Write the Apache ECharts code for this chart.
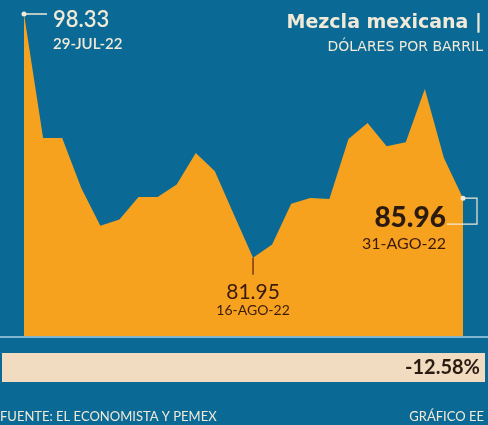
<!DOCTYPE html>
<html><head><meta charset="utf-8">
<script src="https://cdn.jsdelivr.net/npm/echarts@6/dist/echarts.min.js"></script>
<style>html,body{margin:0;padding:0;background:#0b6a95;}#c{width:488px;height:425px;}</style>
</head><body><div id="c"></div>
<script>
const dates = ['29-JUL-22','01-AGO-22','02-AGO-22','03-AGO-22','04-AGO-22','05-AGO-22','08-AGO-22','09-AGO-22','10-AGO-22','11-AGO-22','12-AGO-22','15-AGO-22','16-AGO-22','17-AGO-22','18-AGO-22','19-AGO-22','22-AGO-22','23-AGO-22','24-AGO-22','25-AGO-22','26-AGO-22','29-AGO-22','30-AGO-22','31-AGO-22'];
const prices = [98.33,90.00,90.00,86.64,84.11,84.52,86.04,86.04,86.87,89.00,87.76,84.85,81.95,82.84,85.59,85.97,85.91,89.94,91.01,89.44,89.71,93.29,88.66,85.96];
const changeText = '-12.58%';
const FONT = 'Lato';
const WIDE = '"DejaVu Sans"';
const cream = '#f1ead9';
const dark = '#2b1a10';

const chart = echarts.init(document.getElementById('c'));
chart.setOption({
  backgroundColor: '#0b6a95',
  animation: false,
  grid: {left: 24, right: 25, top: 14, bottom: 89},
  xAxis: {type: 'category', data: dates, boundaryGap: false, show: false},
  yAxis: {type: 'value', min: 76.7, max: 98.33, show: false},
  series: [{
    type: 'line', data: prices, symbol: 'none', z: 1,
    lineStyle: {width: 0}, areaStyle: {color: '#f7a21e', opacity: 1}
  }]
});

const first = chart.convertToPixel({xAxisIndex:0,yAxisIndex:0},[0,prices[0]]);
const minIdx = prices.indexOf(Math.min(...prices));
const low = chart.convertToPixel({xAxisIndex:0,yAxisIndex:0},[minIdx,prices[minIdx]]);
const li = prices.length-1;
const last = chart.convertToPixel({xAxisIndex:0,yAxisIndex:0},[li,prices[li]]);

const g = [
    {type:'line', shape:{x1:0,y1:337,x2:488,y2:337}, style:{stroke:'#7fb6d0', lineWidth:2}},
    {type:'rect', shape:{x:2,y:353,width:483,height:29}, style:{fill:'#f1dcc2'}},
    {type:'text', x:480, y:368, style:{text:changeText, fill:dark, font:'bold 20px '+FONT, align:'right', verticalAlign:'middle'}},
    {type:'text', x:0, y:417, style:{text:'FUENTE: EL ECONOMISTA Y PEMEX', fill:cream, font:'13px '+FONT, verticalAlign:'middle'}},
    {type:'text', x:484, y:417, style:{text:'GRÁFICO EE', fill:cream, font:'13px '+FONT, align:'right', verticalAlign:'middle'}},
    {type:'text', x:482, y:23, style:{text:'Mezcla mexicana |', fill:cream, font:'bold 19px '+WIDE, align:'right', verticalAlign:'middle'}},
    {type:'text', x:483, y:47, style:{text:'DÓLARES POR BARRIL', fill:cream, font:'14px '+WIDE, align:'right', verticalAlign:'middle'}},
    // first callout
    {type:'line', shape:{x1:first[0],y1:first[1],x2:first[0]+23,y2:first[1]}, style:{stroke:cream, lineWidth:1.5}},
    {type:'circle', shape:{cx:first[0],cy:first[1],r:2.5}, style:{fill:cream}},
    {type:'text', x:first[0]+29, y:first[1]+6, style:{text:prices[0].toFixed(2), fill:cream, font:'600 22px '+FONT, verticalAlign:'middle'}},
    {type:'text', x:first[0]+29, y:first[1]+30, style:{text:dates[0], fill:cream, font:'600 15px '+FONT, verticalAlign:'middle'}},
    // low callout
    {type:'line', shape:{x1:low[0],y1:low[1],x2:low[0],y2:low[1]+17}, style:{stroke:'#5a2010', lineWidth:1.2}},
    {type:'text', x:low[0], y:low[1]+34, style:{text:prices[minIdx].toFixed(2), fill:'#3a1a0c', font:'21px '+FONT, align:'center', verticalAlign:'middle'}},
    {type:'text', x:low[0], y:low[1]+53, style:{text:dates[minIdx], fill:'#3a1a0c', font:'14px '+FONT, align:'center', verticalAlign:'middle'}},
    // last callout
    {type:'polyline', shape:{points:[[last[0],last[1]],[last[0]+14,last[1]],[last[0]+14,last[1]+26],[last[0]-16,last[1]+26]]}, style:{stroke:cream, lineWidth:1.2, fill:null}},
    {type:'circle', shape:{cx:last[0],cy:last[1],r:2.5}, style:{fill:cream}},
    {type:'text', x:last[0]-17, y:last[1]+20, style:{text:prices[li].toFixed(2), fill:dark, font:'900 28px '+FONT, align:'right', verticalAlign:'middle'}},
    {type:'text', x:last[0]-17, y:last[1]+46, style:{text:dates[li], fill:'#3a1a0c', font:'16px '+FONT, align:'right', verticalAlign:'middle'}}
];
g.forEach(e => { e.z = 100; e.zlevel = 0; });
chart.setOption({ graphic: g });
</script></body></html>
